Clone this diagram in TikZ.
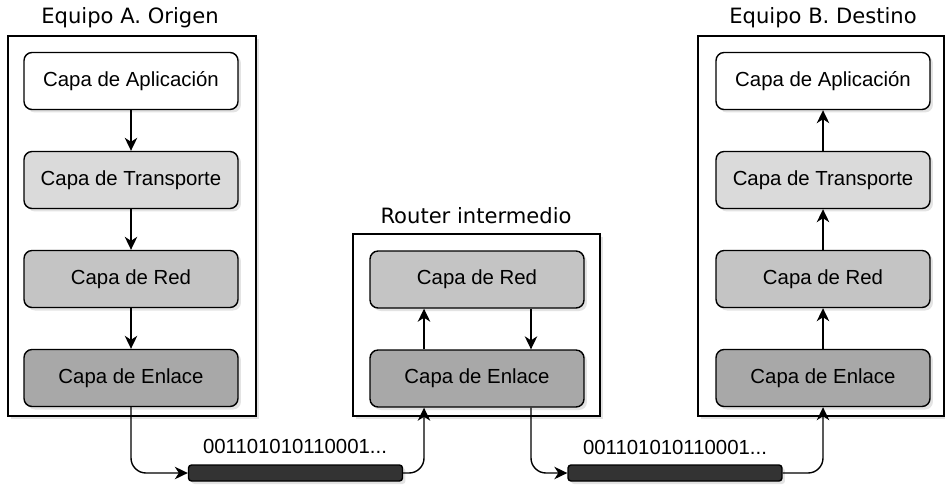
\documentclass[tikz,border=0pt]{standalone}
\usepackage{fontspec}
\setmainfont{Liberation Sans}
\newfontfamily\titlefont{DejaVu Sans}
\usetikzlibrary{arrows.meta,shadows}
\definecolor{grisTransp}{HTML}{DADADA}
\definecolor{grisRed}{HTML}{C4C4C4}
\definecolor{grisEnl}{HTML}{A8A8A8}
\definecolor{grisCable}{HTML}{333333}
\tikzset{
    sombra/.style={drop shadow={shadow xshift=0.06cm, shadow yshift=-0.06cm, opacity=0.22}},
    equipo/.style={draw, line width=0.8pt, fill=white, sombra},
    capa/.style={draw, rounded corners=0.16cm, minimum width=4.28cm, minimum height=1.14cm,
        line width=0.8pt, font=\fontsize{11.6}{14}\selectfont, sombra},
    titulo/.style={font=\titlefont\fontsize{12}{14}\selectfont},
    cable/.style={draw=black, fill=grisCable, rounded corners=0.06cm, minimum width=4.28cm,
        minimum height=0.32cm, line width=0.8pt, sombra},
    bits/.style={font=\fontsize{11.6}{14}\selectfont},
    flecha/.style={-{Stealth[length=2.6mm,width=2.5mm,inset=0.8mm]}, line width=0.8pt},
}

\begin{document}
\begin{tikzpicture}[x=0.02cm, y=-0.02cm]
    \useasboundingbox (0,0) rectangle (945,487);
    % equipos
    \node[equipo, minimum width=4.96cm, minimum height=7.6cm] (origen) at (132,226) {};
    \node[equipo, minimum width=4.94cm, minimum height=3.64cm] (router) at (476.5,325) {};
    \node[equipo, minimum width=4.92cm, minimum height=7.6cm] (destino) at (821,226) {};
    \node[titulo] (tOrigen) at (130,18) {Equipo A. Origen};
    \node[titulo] (tRouter) at (476,216) {Router intermedio};
    \node[titulo] (tDestino) at (823,18) {Equipo B. Destino};
    % capas origen
    \node[capa, fill=white] (oApl) at (131,81) {Capa de Aplicación};
    \node[capa, fill=grisTransp] (oTra) at (131,180) {Capa de Transporte};
    \node[capa, fill=grisRed] (oRed) at (131,279) {Capa de Red};
    \node[capa, fill=grisEnl] (oEnl) at (131,378) {Capa de Enlace};
    % capas router
    \node[capa, fill=grisRed] (rRed) at (477,279.5) {Capa de Red};
    \node[capa, fill=grisEnl] (rEnl) at (477,378.5) {Capa de Enlace};
    % capas destino
    \node[capa, fill=white] (dApl) at (823,81) {Capa de Aplicación};
    \node[capa, fill=grisTransp] (dTra) at (823,180) {Capa de Transporte};
    \node[capa, fill=grisRed] (dRed) at (823,279) {Capa de Red};
    \node[capa, fill=grisEnl] (dEnl) at (823,378) {Capa de Enlace};
    % medio fisico
    \node[cable] (cable1) at (295.5,473) {};
    \node[cable] (cable2) at (675,473) {};
    \node[bits] (bits1) at (295,446) {001101010110001...};
    \node[bits] (bits2) at (675,447) {001101010110001...};

    \draw[flecha] (oApl) -- (oTra);
    \draw[flecha] (oTra) -- (oRed);
    \draw[flecha] (oRed) -- (oEnl);
    \draw[flecha] ([xshift=-1.06cm]rEnl.north) -- ([xshift=-1.06cm]rRed.south);
    \draw[flecha] ([xshift=1.08cm]rRed.south) -- ([xshift=1.08cm]rEnl.north);
    \draw[flecha] (dEnl) -- (dRed);
    \draw[flecha] (dRed) -- (dTra);
    \draw[flecha] (dTra) -- (dApl);
    %\draw[flecha] (oEnl.south) -- (cable1.west);
    \draw[flecha, rounded corners=0.3cm] (oEnl.south) |- (cable1.west);
    \draw[flecha, rounded corners=0.3cm] (cable1.east) -| ([xshift=-1.06cm]rEnl.south);
    \draw[flecha, rounded corners=0.3cm] ([xshift=1.08cm]rEnl.south) |- (cable2.west);
    \draw[flecha, rounded corners=0.3cm] (cable2.east) -| (dEnl.south);
\end{tikzpicture}
\end{document}
